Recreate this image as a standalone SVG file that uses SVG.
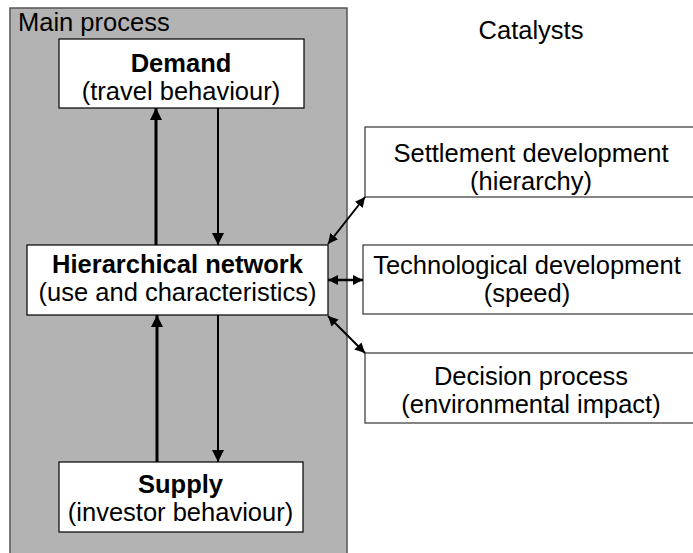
<svg xmlns="http://www.w3.org/2000/svg" width="693" height="553" viewBox="0 0 693 553">
<defs>
<marker id="ah" viewBox="0 0 12 12" refX="12" refY="6" markerWidth="12" markerHeight="12" markerUnits="userSpaceOnUse" orient="auto-start-reverse">
<path d="M0,0 L12,6 L0,12 Z" fill="#000"/>
</marker>
<marker id="ahs" viewBox="0 0 10 10" refX="10" refY="5" markerWidth="10" markerHeight="10" markerUnits="userSpaceOnUse" orient="auto-start-reverse">
<path d="M0,0 L10,5 L0,10 Z" fill="#000"/>
</marker>
<style>
text{font-family:"Liberation Sans",Arial,sans-serif;font-size:25.5px;fill:#000}
.b{font-weight:bold}
.m{text-anchor:middle}
.box{fill:#fff;stroke:#000;stroke-width:1.2}
.rbox{fill:#fff;stroke:#333;stroke-width:1.2}
.c{stroke:#000;fill:none}
</style>
</defs>
<rect x="0" y="0" width="693" height="553" fill="#fff"/>
<g id="main-process">
<rect x="10" y="8" width="337" height="560" fill="#b3b3b3" stroke="#555" stroke-width="1.5"/>
<text x="18" y="31">Main process</text>
</g>
<g id="catalysts-label">
<text class="m" x="531" y="39">Catalysts</text>
</g>
<g id="demand">
<rect class="box" x="59" y="39" width="245" height="69"/>
<text class="m b" x="181" y="72">Demand</text>
<text class="m" x="181" y="100">(travel behaviour)</text>
</g>
<g id="network">
<rect class="box" x="27" y="245" width="301" height="70"/>
<text class="m b" x="177.5" y="273">Hierarchical network</text>
<text class="m" x="177.5" y="301">(use and characteristics)</text>
</g>
<g id="supply">
<rect class="box" x="59" y="462" width="244" height="70"/>
<text class="m b" x="180.5" y="493">Supply</text>
<text class="m" x="180.5" y="521">(investor behaviour)</text>
</g>
<g id="settlement">
<rect class="rbox" x="365" y="127" width="340" height="70"/>
<text class="m" x="531" y="162">Settlement development</text>
<text class="m" x="531" y="190">(hierarchy)</text>
</g>
<g id="technological">
<rect class="rbox" x="363" y="245" width="340" height="69"/>
<text class="m" x="527" y="274">Technological development</text>
<text class="m" x="527" y="302">(speed)</text>
</g>
<g id="decision">
<rect class="rbox" x="365" y="353" width="340" height="70"/>
<text class="m" x="531" y="385">Decision process</text>
<text class="m" x="531" y="413">(environmental impact)</text>
</g>
<g id="connectors">
<line class="c" x1="156" y1="245" x2="156" y2="108" stroke-width="3" marker-end="url(#ah)"/>
<line class="c" x1="218" y1="108" x2="218" y2="245" stroke-width="2" marker-end="url(#ah)"/>
<line class="c" x1="157" y1="462" x2="157" y2="315" stroke-width="3" marker-end="url(#ah)"/>
<line class="c" x1="218" y1="315" x2="218" y2="462" stroke-width="2" marker-end="url(#ah)"/>
<line class="c" x1="328" y1="244" x2="365" y2="197" stroke-width="2" marker-start="url(#ahs)" marker-end="url(#ahs)"/>
<line class="c" x1="328" y1="280" x2="363" y2="280" stroke-width="2.5" marker-start="url(#ahs)" marker-end="url(#ahs)"/>
<line class="c" x1="328" y1="316" x2="365" y2="353" stroke-width="2" marker-start="url(#ahs)" marker-end="url(#ahs)"/>
</g>
</svg>
